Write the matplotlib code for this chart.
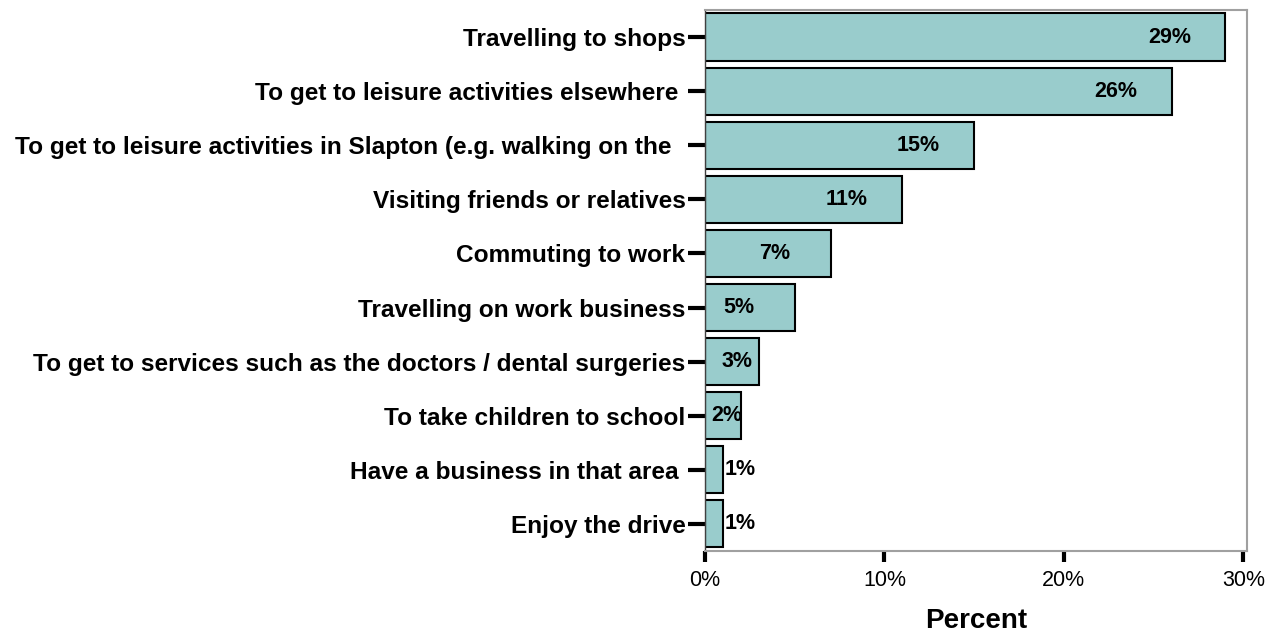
import numpy as np
import matplotlib
matplotlib.use("Agg")
import matplotlib.pyplot as plt
from matplotlib.ticker import FuncFormatter

plt.rcParams['font.family'] = ['Liberation Sans', 'DejaVu Sans']

# Reasons for travelling by car, percent of responses
reasons = [
    'Travelling to shops',
    'To get to leisure activities elsewhere ',
    'To get to leisure activities in Slapton (e.g. walking on the  ',
    'Visiting friends or relatives',
    'Commuting to work',
    'Travelling on work business',
    'To get to services such as the doctors / dental surgeries',
    'To take children to school',
    'Have a business in that area ',
    'Enjoy the drive',
]
percent = [29, 26, 15, 11, 7, 5, 3, 2, 1, 1]
x_ticks = [0, 10, 20, 30]

fig = plt.figure(figsize=(12.72, 6.35), dpi=100)
ax = fig.add_axes([0.5542, 0.1323, 0.4261, 0.8520])

ypos = np.arange(len(reasons))
ax.barh(ypos, percent, height=0.87, color='#99CCCC', edgecolor='black', linewidth=1.5)

# value labels: inside near the end of the bar, outside for very short bars
for y, v in zip(ypos, percent):
    if v >= 2:
        xt = v - 3.1 if v - 3.1 >= 1.5 else v * 0.6
        ax.text(xt, y, f'{v}%', ha='center', va='center',
                fontsize=15.5, fontweight='bold')
    else:
        ax.text(v + 0.1, y, f'{v}%', ha='left', va='center',
                fontsize=15.5, fontweight='bold')

ax.set_xlim(0, 30.2)
ax.set_ylim(len(reasons) - 0.5, -0.5)

ax.set_yticks(ypos)
ax.set_yticklabels(reasons, fontsize=17.6, fontweight='bold')
ax.set_xticks(x_ticks)
ax.xaxis.set_major_formatter(FuncFormatter(lambda v, p: f'{v:.0f}%'))
ax.tick_params(axis='x', labelsize=15.5, length=8, width=3, color='black', pad=6)
ax.tick_params(axis='y', length=12, width=3, color='black', pad=2)

for side in ['top', 'right', 'bottom']:
    ax.spines[side].set_color('#a0a0a0')
    ax.spines[side].set_linewidth(1.5)
ax.spines['left'].set_color('#404040')
ax.spines['left'].set_linewidth(1)

ax.set_xlabel('Percent', fontsize=20, fontweight='bold', labelpad=12)

fig.savefig('out.png', dpi=100)
